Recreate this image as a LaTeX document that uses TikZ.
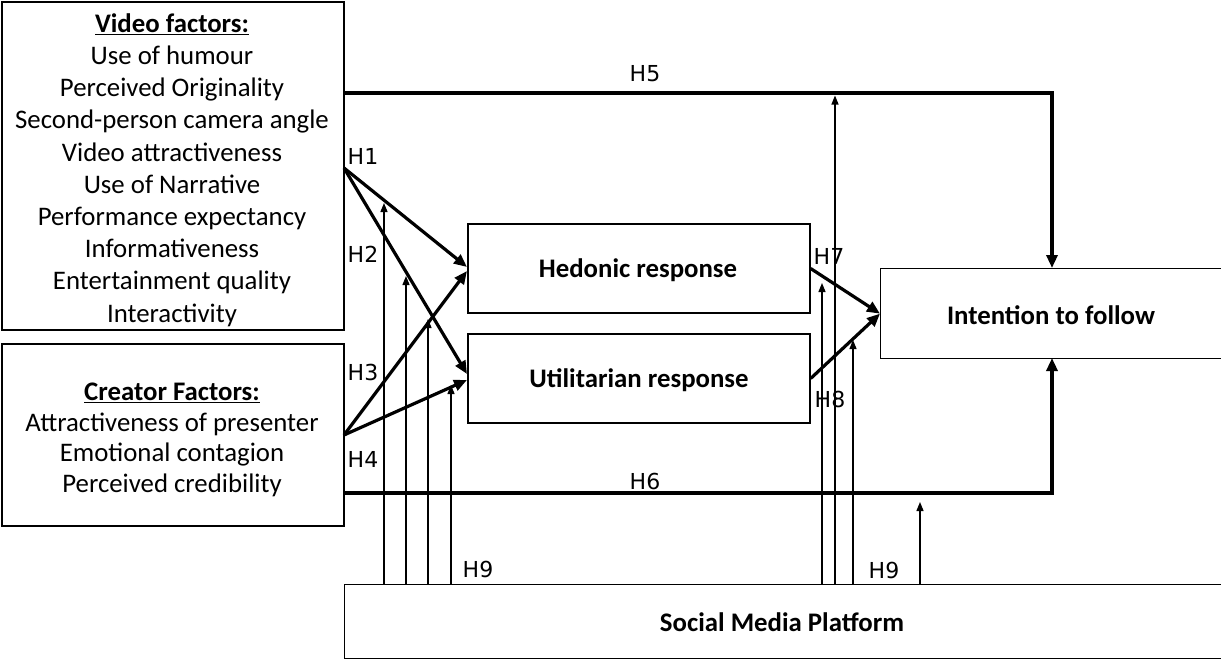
\documentclass[tikz,border=0pt]{standalone}
\usepackage{fontspec}
\setmainfont{Carlito}
\newfontfamily\hfont{DejaVu Sans}
\usetikzlibrary{arrows.meta}

\begin{document}
\begin{tikzpicture}[x=1pt,y=-1pt,
  box/.style={draw, line width=1.3pt, inner sep=0pt},
  lst/.style={font=\fontsize{26.8}{32.2}\selectfont, align=center, inner sep=0pt},
  ttl/.style={font=\bfseries\fontsize{26.8}{30}\selectfont, inner sep=0pt},
  main/.style={line width=3.2pt, line join=miter, -{Triangle[length=13pt,width=11pt]}},
  mod/.style={line width=1.3pt, -{Triangle[length=9pt,width=7pt]}},
  hyp/.style={font=\hfont\fontsize{22}{26}\selectfont, inner sep=0pt}]
\useasboundingbox (0,0) rectangle (1221,659);
\clip (0,0) rectangle (1221,659);

% factor boxes on the left
\node[box, minimum width=342pt, minimum height=328pt] (video) at (173,166) {};
\node[lst] (videot) at (172,170)
  {\textbf{\underline{Video factors:}}\\Use of humour\\Perceived Originality\\
   Second-person camera angle\\Video attractiveness\\Use of Narrative\\
   Performance expectancy\\Informativeness\\Entertainment quality\\Interactivity};
\node[box, minimum width=342pt, minimum height=182pt] (creator) at (173,435) {};
\node[lst, font=\fontsize{26.8}{30.6}\selectfont] (creatort) at (172,440)
  {\textbf{\underline{Creator Factors:}}\\Attractiveness of presenter\\Emotional contagion\\Perceived credibility};

% responses
\node[box, minimum width=342pt, minimum height=89pt] (hed) at (639,268.5) {};
\node[ttl] (hedt) at (638,270) {Hedonic response};
\node[box, minimum width=342pt, minimum height=89pt] (util) at (639,378.5) {};
\node[ttl] (utilt) at (639,380) {Utilitarian response};

% outcome and moderator
\node[box, anchor=north west, minimum width=380pt, minimum height=90pt] (intent) at (880,268) {};
\node[ttl] (intentt) at (1051,315) {Intention to follow};
\node[box, anchor=north west, minimum width=900pt, minimum height=74pt] (social) at (344,584) {};
\node[ttl] (socialt) at (782,622) {Social Media Platform};

% connection points
\coordinate (v5) at (344,93);
\coordinate (v1) at (344,168);
\coordinate (c1) at (344,435);
\coordinate (c6) at (344,493);
\coordinate (k5) at (1052,93);
\coordinate (k6) at (1052,493);
\coordinate (i5) at (1052,268);
\coordinate (i6) at (1052,358);
\coordinate (hA) at (467,267);
\coordinate (hB) at (467,271);
\coordinate (uA) at (467,374);
\coordinate (uB) at (467,380);

% moderating arrows from the platform
\coordinate (t1) at (384,203);
\coordinate (t2) at (406,276);
\coordinate (t3) at (428,319);
\coordinate (t4) at (451,385);
\coordinate (t5) at (835,95.5);
\coordinate (t6) at (822,283);
\coordinate (t7) at (853,340);
\coordinate (t8) at (920,502);
\foreach \t in {t1,t2,t3,t4,t5,t6,t7,t8}
  \draw[mod] (social.north -| \t) -- (\t);

% direct paths
\draw[main] (v5) -- (k5) -- (i5);
\draw[main] (c6) -- (k6) -- (i6);
\draw[main] (v1) -- (hA);
\draw[main] (v1) -- (uA);
\draw[main] (c1) -- (hB);
\draw[main] (c1) -- (uB);
\draw[main] (hed.east) -- (intent.west);
\draw[main] (util.east) -- (intent.west);

% hypothesis labels
\node[hyp] (H1) at (363,156) {H1};
\node[hyp] (H2) at (363,254) {H2};
\node[hyp] (H3) at (363,372) {H3};
\node[hyp] (H4) at (363,459) {H4};
\node[hyp] (H5) at (645,74) {H5};
\node[hyp] (H6) at (645,481) {H6};
\node[hyp] (H7) at (829,256) {H7};
\node[hyp] (H8) at (830,399) {H8};
\node[hyp] (H9a) at (478,569) {H9};
\node[hyp] (H9b) at (884,570) {H9};
\end{tikzpicture}
\end{document}
